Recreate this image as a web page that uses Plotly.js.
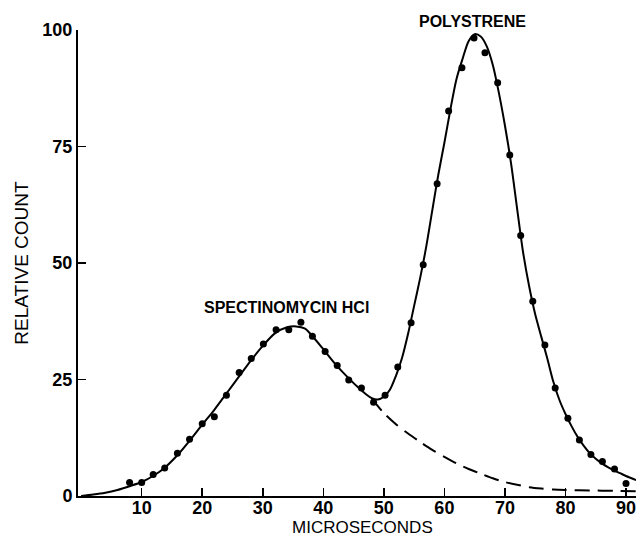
<!DOCTYPE html>
<html>
<head>
<meta charset="utf-8">
<script src="https://cdn.plot.ly/plotly-3.0.1.min.js"></script>
<style>html,body{margin:0;padding:0;background:#fff;}#chart{width:636px;height:538px;}</style>
</head>
<body>
<div id="chart"></div>
<script>
// Measured data points (microseconds, relative count)
var pointX = [8.0, 10.0, 11.9, 13.8, 15.9, 17.9, 20.0, 22.0, 24.0, 26.1, 28.1, 30.1, 32.2, 34.3, 36.3, 38.2,
              40.3, 42.3, 44.2, 46.3, 48.3, 50.2, 52.3, 54.5, 56.5, 58.8, 60.7, 62.9, 64.9, 66.7, 68.8, 70.8,
              72.6, 74.6, 76.6, 78.3, 80.4, 82.3, 84.2, 86.1, 88.1, 90.0];
var pointY = [2.9, 2.9, 4.6, 6.0, 9.2, 12.2, 15.5, 17.0, 21.6, 26.5, 29.5, 32.6, 35.7, 35.7, 37.3, 34.3,
              31.0, 28.0, 24.9, 23.2, 20.1, 21.6, 27.7, 37.2, 49.6, 67.0, 82.6, 91.9, 98.3, 95.1, 88.7, 73.2,
              55.9, 41.8, 32.4, 23.2, 16.7, 12.0, 8.9, 7.4, 5.8, 2.7];

// Fitted (solid) curve
var fitX = [0, 2, 4, 6, 8, 10, 12, 14, 16, 18, 20, 22, 24, 26, 28, 30, 32, 34, 35.5, 37, 38, 40, 42, 44, 46, 47, 48, 49,
            50, 51, 52, 53, 54, 55, 56, 57, 58, 59, 60, 61, 62, 63, 64, 65, 66, 67, 68, 69, 70, 71, 72, 73, 74, 75,
            76, 77, 78, 79, 80, 81, 82, 83, 84, 85, 86, 87, 88, 89, 90, 91.7];
var fitY = [0, 0.3, 0.7, 1.3, 2.1, 3.0, 4.4, 6.3, 8.9, 12.0, 15.3, 18.5, 22.0, 25.5, 29.0, 32.2, 34.9, 36.2, 36.4, 35.9, 34.6, 31.5, 28.3, 25.5, 23.0, 21.9, 21.0, 20.7,
            21.3, 22.8, 25.8, 29.6, 34.8, 40.8, 46.8, 53.5, 61.3, 69.0, 75.8, 83.0, 89.5, 93.8, 97.6, 99.1, 98.6, 96.5, 92.5, 86.5, 79.5, 71.5, 61.8, 52.3, 45.0, 39.0,
            34.2, 29.5, 24.5, 20.6, 17.6, 15.0, 12.7, 10.8, 9.2, 8.0, 7.0, 6.2, 5.5, 4.9, 4.3, 3.4];

// Spectinomycin tail (dashed)
var tailX = [48, 50, 52, 54, 56, 58, 60, 62, 64, 66, 68, 70, 72, 74, 76, 78, 80, 84, 88, 91.7];
var tailY = [20.9, 17.8, 15.4, 13.4, 11.6, 9.9, 8.4, 7.0, 5.8, 4.8, 3.8, 3.0, 2.4, 1.9, 1.6, 1.4, 1.3, 1.2, 1.1, 1.0];

var xTicks = [10, 20, 30, 40, 50, 60, 70, 80, 90];
var yTicks = [0, 25, 50, 75, 100];

var tickFont = {family: 'Liberation Sans, Arial, sans-serif', size: 18, color: '#000', weight: 'bold'};
var titleFont = {family: 'Liberation Sans, Arial, sans-serif', size: 19, color: '#000'};
var xTitleFont = {family: 'Liberation Sans, Arial, sans-serif', size: 17, color: '#000'};
var labelFont = {family: 'Liberation Sans, Arial, sans-serif', size: 16, color: '#000', weight: 'bold'};

var traces = [
  {x: tailX, y: tailY, mode: 'lines', line: {color: '#000', width: 2, dash: '15px,8px', shape: 'spline', smoothing: 0.8}, hoverinfo: 'skip'},
  {x: fitX, y: fitY, mode: 'lines', line: {color: '#000', width: 2, shape: 'spline', smoothing: 0.8}, hoverinfo: 'skip'},
  {x: pointX, y: pointY, mode: 'markers', marker: {color: '#000', size: 7}, cliponaxis: false}
];

var layout = {
  width: 636, height: 538,
  margin: {l: 78, r: 0, t: 30, b: 42},
  paper_bgcolor: '#fff', plot_bgcolor: '#fff',
  showlegend: false,
  xaxis: {
    range: [-0.52, 91.65], tickvals: xTicks, ticktext: xTicks.map(String),
    ticks: 'inside', ticklen: 8, tickwidth: 1.5, tickcolor: '#000',
    showline: true, linecolor: '#000', linewidth: 2, showgrid: false, zeroline: false,
    tickfont: tickFont, ticklabeloverflow: 'allow', ticklabelstandoff: -6
  },
  yaxis: {
    range: [0, 100], tickvals: yTicks, ticktext: yTicks.map(String),
    ticks: 'inside', ticklen: 8, tickwidth: 1.5, tickcolor: '#000',
    showline: true, linecolor: '#000', linewidth: 2, showgrid: false, zeroline: false,
    tickfont: tickFont, ticklabeloverflow: 'allow',
    title: {text: 'RELATIVE COUNT', font: titleFont, standoff: 9}
  },
  annotations: [
    {x: 64.7, y: 1.019, xref: 'x', yref: 'paper', yanchor: 'middle', text: 'POLYSTRENE', showarrow: false, font: labelFont},
    {x: 34, y: 40.5, xref: 'x', yref: 'y', text: 'SPECTINOMYCIN HCl', showarrow: false, font: labelFont},
    {x: (362 - 78) / 558, xref: 'paper', y: -(538 - 496) / 466, yref: 'paper', yanchor: 'bottom',
     borderpad: 0, text: 'MICROSECONDS', showarrow: false, font: xTitleFont}
  ]
};

Plotly.newPlot('chart', traces, layout, {staticPlot: true, displayModeBar: false});
</script>
</body>
</html>
